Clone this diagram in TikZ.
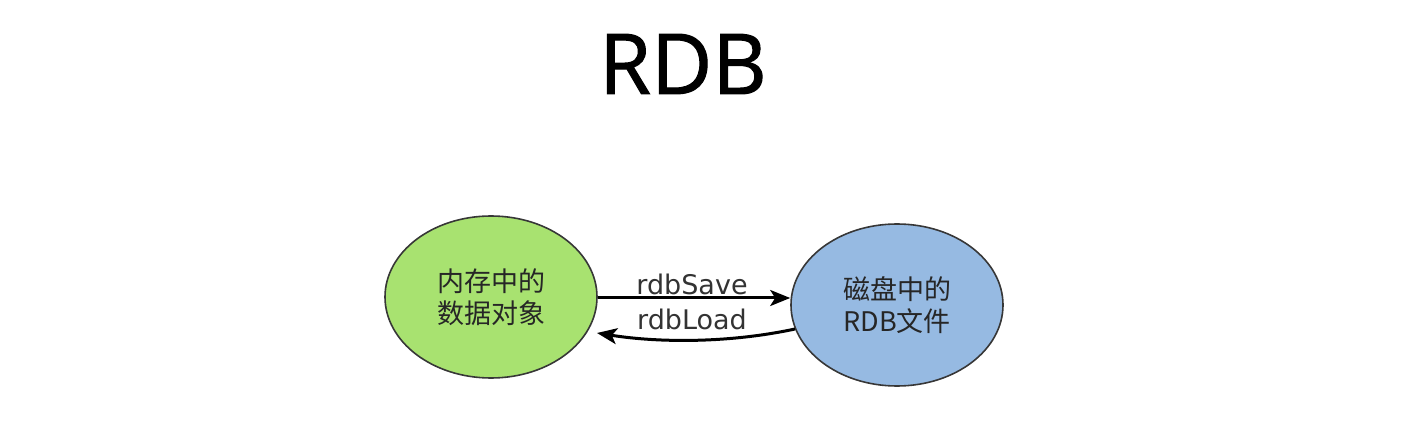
\documentclass[tikz,border=0pt]{standalone}
\usepackage{fontspec}
\setmainfont{DejaVu Sans}
\newfontfamily\titlefont[FakeBold=1.2]{Open Sans}
\newfontfamily\cjk{Noto Sans CJK SC}
\usetikzlibrary{arrows.meta,shapes.geometric}
\definecolor{memgreen}{RGB}{168,226,112}
\definecolor{diskblue}{RGB}{150,186,226}
\definecolor{edgegray}{RGB}{55,55,55}
\begin{document}
\begin{tikzpicture}[x=0.5pt,y=-0.5pt,
  state/.style={ellipse,draw=edgegray,line width=0.8pt,minimum width=106pt,minimum height=81pt,inner sep=0pt,align=center,font=\cjk\fontsize{13.5}{16}\selectfont,text=black!85},
  conn/.style={line width=1.5pt,-{Stealth[length=10pt,width=8pt,inset=2.5pt]}},
  lbl/.style={font=\fontsize{13.5}{15}\selectfont,text=black!80,inner sep=1pt}]
\useasboundingbox (0,0) rectangle (1420,422);
\node[font=\titlefont\fontsize{42}{50}\selectfont] (title) at (683,64) {RDB};
\node[state,fill=memgreen] (mem) at (491,297) {内存中的\\数据对象};
\node[state,fill=diskblue] (disk) at (897,305) {磁盘中的\\RDB文件};
\draw[conn] (mem.east |- 0,298) -- (disk.west |- 0,298);
\coordinate (ls) at (795,329);
\coordinate (le) at (597,333);
\draw[conn] (ls) .. controls (730,343) and (660,343) .. (le);
\node[lbl] (save) at (692,284) {rdbSave};
\node[lbl] (load) at (692,319) {rdbLoad};
\end{tikzpicture}
\end{document}
